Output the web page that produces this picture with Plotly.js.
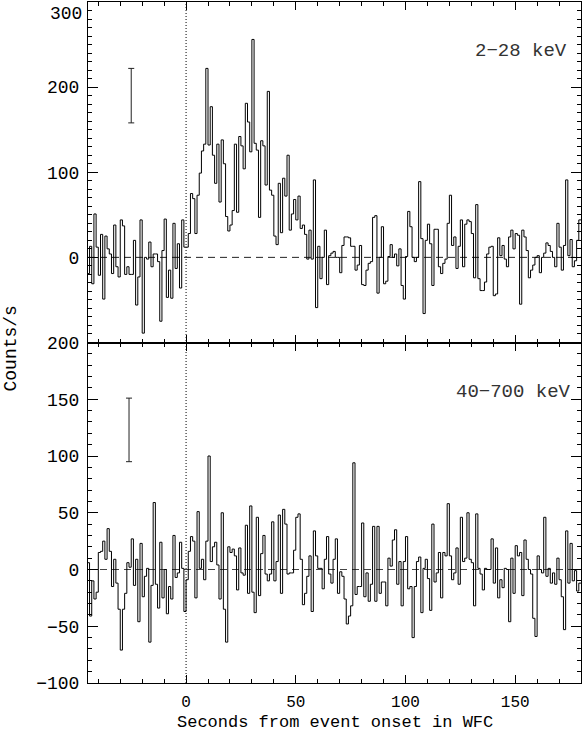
<!DOCTYPE html>
<html>
<head>
<meta charset="utf-8">
<script src="https://cdn.plot.ly/plotly-3.0.1.min.js"></script>
<style>
  html, body { margin: 0; padding: 0; background: #fff; }
  #grafico { width: 582px; height: 734px; }
</style>
</head>
<body>
<div id="grafico"></div>
<script>
// Curvas de luz, bins de 1 s desde t = -45 s
const inicioBin = -45;

// 2-28 keV (WFC)
const cuentasWFC = [
  -19, 13, -31, 51, 12, -21, 27, -49, 25, 10,
  4, -19, 38, -11, -23, 44, 37, -20, -11, -20,
  -20, 20, -56, -23, 44, -89, 0, -2, 18, -11,
  4, 4, -5, -75, 8, 45, -47, -15, -48, 40,
  -13, 16, -36, 44, 12,
  12, 28, 75, 69, 28, 73, 99, 125, 133, 222,
  132, 177, 120, 87, 133, 65, 138, 110, 48, 31,
  38, 55, 133, 53, 142, 131, 104, 181, 159, 124,
  256, 134, 126, 47, 137, 131, 85, 195, 79, 73,
  25, 15, 87, 29, 93, 72, 120, 32, 51, 68,
  44, 72, 34, 38, 27, -2, 32, -2, 91, -59,
  13, -25, 0, 32, -32, 2, 5, 7, 0, 0,
  -18, 14, 24, 24, 23, 13, 13, -15, -9, 14,
  -32, -33, -15, -7, -5, 47, 49, -42, 0, 36,
  -31, -28, 1, 15, 0, 4, -10, 10, -33, -49,
  1, 54, 36, 0, -5, 0, 89, 22, -66, 20,
  39, 16, -33, 33, 33, -11, -19, -7, -2, 40,
  73, 14, 24, -13, 13, 44, -11, 39, 44, 42,
  28, -24, 62, -25, -39, -39, -29, 4, 12, 13,
  -45, -43, 23, 2, 14, -2, -11, 24, 32, 10,
  28, 26, -55, 32, 24, 8, -24, -15, -9, 0,
  2, -18, 0, 5, 17, 14, 7, 0, -11, 40,
  12, -15, 14, 91, 2, 21, -11, -4, 20, 44
];

// 40-700 keV
const cuentasGRBM = [
  6, -41, -10, -26, -20, 15, 16, 25, 9, 36,
  16, -15, 9, -12, -35, -71, -35, -21, 6, 2,
  27, -14, 9, -46, 23, -24, -6, 1, -64, -14,
  59, -13, -34, 24, -25, 0, -39, -15, -26, 30,
  -7, -3, 24, 1, -37,
  -9, 16, 29, 25, -25, 51, 1, 9, -9, 25,
  100, 7, 20, 24, 4, -26, 50, -35, -64, 20,
  15, 18, 12, -18, 19, -3, -5, 39, -21, 56,
  -20, -38, 46, -23, 14, 30, -4, -10, -4, 42,
  -10, 7, 48, -21, 53, 40, -4, -3, -3, 17,
  46, 49, 9, -31, -21, -6, 12, -37, 34, 12,
  1, 1, -17, 9, 29, -4, -12, 9, 27, -21,
  -2, -6, -26, -48, -41, -32, 94, -22, -15, -15,
  41, -24, -3, -28, -13, 38, -28, 38, -21, -11,
  -11, -32, 10, 3, 26, 35, -13, 7, -32, 7,
  29, -17, -15, -60, -15, 7, 11, -38, 1, 9,
  -8, -36, 40, -11, -3, 15, -25, 15, 12, 58,
  12, -9, -3, 19, -13, 46, 7, 10, 50, 9,
  6, -32, 49, 1, -4, -18, 1, 0, 0, 27,
  -12, 19, -25, -9, -16, 1, 0, -46, 10, -21,
  21, 12, 15, -23, 26, 9, 0, -4, -43, -59,
  12, 0, -3, 46, -6, 1, -12, -3, -13, 10,
  -9, -24, -53, 34, -12, 23, -10, -1, -19, -12
];

// Barras de error típicas (una por panel)
const errorX = [-25, -26];
const errorY = [190, 123];
const errorMitad = [32, 28];

const etiquetas = ['2\u221228 keV', '40\u2212700 keV'];
const tituloX = 'Seconds from event onset in WFC';
const tituloY = 'Counts/s';
const ticksArriba = [0, 100, 200];
const tickSuperior = 300;

function escalones(vals) {
    const x = vals.map((v, i) => inicioBin + i);
    x.push(inicioBin + vals.length);
    const y = vals.concat([vals[vals.length - 1]]);
    return {x, y};
}

function graficar() {
    const a = escalones(cuentasWFC);
    const b = escalones(cuentasGRBM);
    const linea = {color: '#000', width: 1, shape: 'hv'};

    const trazas = [
        {x: a.x, y: a.y, xaxis: 'x2', yaxis: 'y2', type: 'scatter', mode: 'lines', line: linea, hoverinfo: 'skip'},
        {x: b.x, y: b.y, xaxis: 'x', yaxis: 'y', type: 'scatter', mode: 'lines', line: linea, hoverinfo: 'skip'},
        {x: [errorX[0]], y: [errorY[0]], xaxis: 'x2', yaxis: 'y2', type: 'scatter', mode: 'markers',
         marker: {size: 1, opacity: 0},
         error_y: {type: 'data', array: [errorMitad[0]], color: '#222', thickness: 1, width: 3}},
        {x: [errorX[1]], y: [errorY[1]], xaxis: 'x', yaxis: 'y', type: 'scatter', mode: 'markers',
         marker: {size: 1, opacity: 0},
         error_y: {type: 'data', array: [errorMitad[1]], color: '#222', thickness: 1, width: 3}}
    ];

    const ejeComun = {
        showline: true, linecolor: '#000', linewidth: 1, mirror: 'allticks',
        ticks: 'inside', tickcolor: '#000', showgrid: false, zeroline: false
    };

    const layout = {
        width: 582, height: 734,
        margin: {l: 88, r: 1, t: 2, b: 51},
        paper_bgcolor: '#fff', plot_bgcolor: '#fff',
        showlegend: false,
        font: {family: 'Liberation Mono, DejaVu Sans Mono, monospace', size: 18, color: '#000'},
        xaxis: Object.assign({}, ejeComun, {
            anchor: 'y', range: [-44.7, 180], tick0: 0, dtick: 50, ticklen: 8,
            minor: {ticks: 'inside', dtick: 10, tick0: 0, ticklen: 4, tickcolor: '#000'},
            tickfont: {size: 16},
            ticklabelstandoff: 4
        }),
        xaxis2: Object.assign({}, ejeComun, {
            anchor: 'y2', matches: 'x', range: [-44.7, 180], tick0: 0, dtick: 50, ticklen: 8,
            showticklabels: false,
            minor: {ticks: 'inside', dtick: 10, tick0: 0, ticklen: 4, tickcolor: '#000'}
        }),
        yaxis: Object.assign({}, ejeComun, {
            domain: [0, 0.5], anchor: 'x', range: [-100, 200], tick0: 0, dtick: 50, ticklen: 10,
            minor: {ticks: 'inside', dtick: 10, tick0: 0, ticklen: 4, tickcolor: '#000'},
            ticklabelstandoff: 4
        }),
        yaxis2: Object.assign({}, ejeComun, {
            domain: [0.5, 1], anchor: 'x2', range: [-100, 300],
            tickmode: 'array', tickvals: ticksArriba, ticklen: 10,
            minor: {ticks: 'inside', tickmode: 'linear', dtick: 10, tick0: 0, ticklen: 4, tickcolor: '#000'},
            ticklabelstandoff: 4
        }),
        shapes: [
            {type: 'line', xref: 'paper', x0: 0, x1: 1, yref: 'y2', y0: 0, y1: 0, layer: 'below',
             line: {color: '#222', width: 1, dash: '7px,5px'}},
            {type: 'line', xref: 'paper', x0: 0, x1: 1, yref: 'y', y0: 0, y1: 0, layer: 'below',
             line: {color: '#444', width: 1, dash: '7px,5px'}},
            {type: 'line', xref: 'x', x0: 0, x1: 0, yref: 'paper', y0: 0, y1: 1, layer: 'below',
             line: {color: '#000', width: 1, dash: '1px,2px'}}
        ],
        annotations: [
            {text: String(tickSuperior), xref: 'paper', x: 0, xanchor: 'right', xshift: -4,
             yref: 'y2', y: tickSuperior, yanchor: 'top', showarrow: false, font: {size: 18}},
            {text: tituloX, xref: 'paper', x: 0.5, xanchor: 'center',
             yref: 'paper', y: 0, yanchor: 'bottom', yshift: -51, showarrow: false, font: {size: 17}},
            {text: tituloY, textangle: -90, xref: 'paper', x: 0, xanchor: 'center', xshift: -78,
             yref: 'paper', y: 0.5, yanchor: 'middle', yshift: -6, showarrow: false, font: {size: 18}},
            {text: etiquetas[0], xref: 'paper', x: 1, xanchor: 'right', xshift: -12,
             yref: 'paper', y: 1, yanchor: 'middle', yshift: -49, showarrow: false, font: {size: 19, color: '#333'}},
            {text: etiquetas[1], xref: 'paper', x: 1, xanchor: 'right', xshift: -8,
             yref: 'paper', y: 0.427, yanchor: 'middle', showarrow: false, font: {size: 19, color: '#333'}}
        ]
    };

    Plotly.newPlot('grafico', trazas, layout, {displayModeBar: false, staticPlot: true});
}

window.onload = graficar;
</script>
</body>
</html>
